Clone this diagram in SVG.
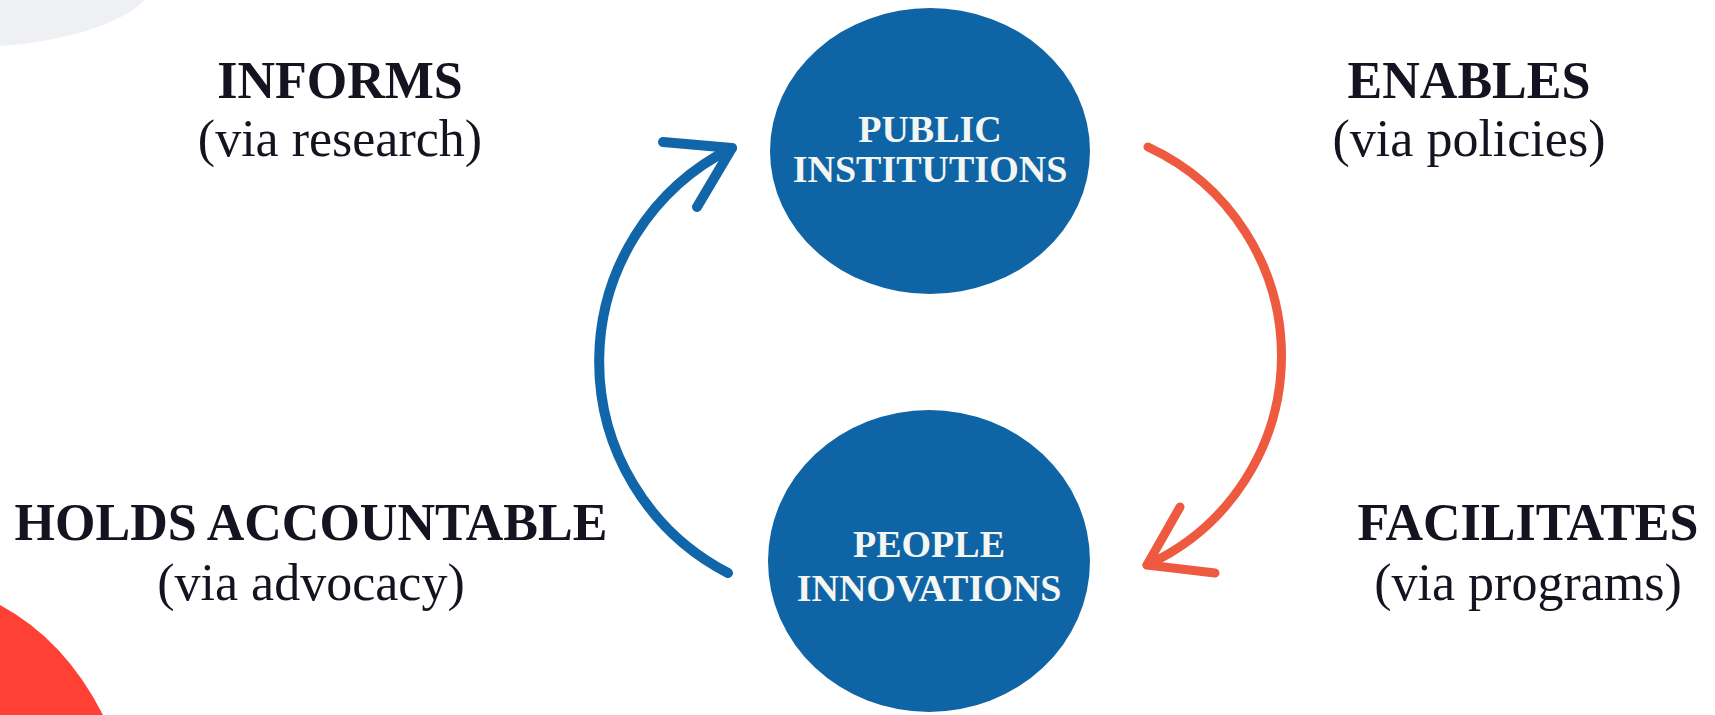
<svg xmlns="http://www.w3.org/2000/svg" width="1715" height="715" viewBox="0 0 1715 715">
<style>
.lbl{font-family:"Liberation Serif","Times New Roman",serif;font-size:52px;fill:#141420;text-anchor:middle}
.b{font-weight:bold}
.node{fill:#0F64A6}
.ntx{font-family:"Liberation Serif","Times New Roman",serif;font-size:38px;font-weight:bold;fill:#F4F6F1;text-anchor:middle}
.blue{fill:none;stroke:#1066A8;stroke-width:10;stroke-linecap:round;stroke-linejoin:round}
.red{fill:none;stroke:#EE5A40;stroke-width:9;stroke-linecap:round;stroke-linejoin:round}
</style>
<rect width="1715" height="715" fill="#FFFFFF"/>
<g id="decor">
<path d="M0,0 H145 C120,25 60,42 0,46 Z" fill="#EEF0F4"/>
<path d="M0,605 Q65,640 103,715 L0,715 Z" fill="#FF4034"/>
</g>
<g id="connectors">
<path class="blue" d="M728,573 A238,238 0 0 1 732,148"/>
<polyline class="blue" points="663,142 732,148 697,207"/>
<path class="red" d="M1148,147 A230,230 0 0 1 1147,565"/>
<polyline class="red" points="1180,507 1147,565 1215,573"/>
</g>
<g id="node-public">
<ellipse class="node" cx="930" cy="151" rx="160" ry="143"/>
<text class="ntx" x="930" y="142">PUBLIC</text>
<text class="ntx" x="930" y="182">INSTITUTIONS</text>
</g>
<g id="node-people">
<ellipse class="node" cx="929" cy="561" rx="161" ry="151"/>
<text class="ntx" x="929" y="557">PEOPLE</text>
<text class="ntx" x="929" y="601">INNOVATIONS</text>
</g>
<g id="label-informs">
<text class="lbl b" x="340" y="98">INFORMS</text>
<text class="lbl" x="340" y="156">(via research)</text>
</g>
<g id="label-enables">
<text class="lbl b" x="1469" y="98">ENABLES</text>
<text class="lbl" x="1469" y="156">(via policies)</text>
</g>
<g id="label-holds">
<text class="lbl b" x="311" y="540">HOLDS ACCOUNTABLE</text>
<text class="lbl" x="311" y="600">(via advocacy)</text>
</g>
<g id="label-facilitates">
<text class="lbl b" x="1528" y="540">FACILITATES</text>
<text class="lbl" x="1528" y="600">(via programs)</text>
</g>
</svg>
